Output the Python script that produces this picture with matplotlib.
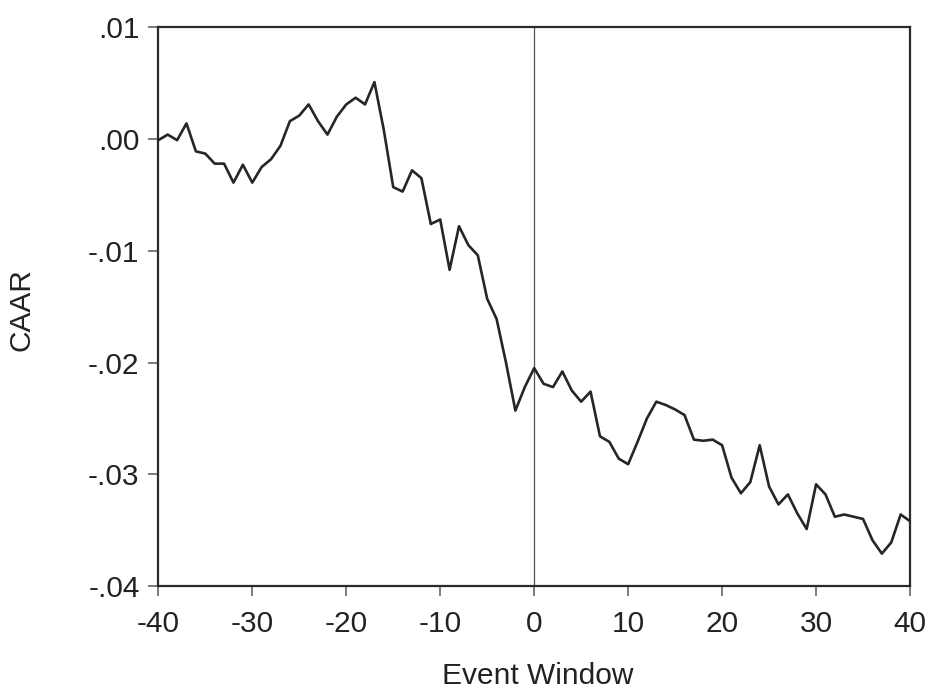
import numpy as np
import matplotlib
matplotlib.use('Agg')
import matplotlib.pyplot as plt

# event window days and cumulative average abnormal returns
event_days = list(range(-40, 41))
caar = [
    -0.0001, 0.0004, -0.0001, 0.0014, -0.0011, -0.0013, -0.0022, -0.0022, -0.0039, -0.0023,
    -0.0039, -0.0025, -0.0018, -0.0006, 0.0016, 0.0021, 0.0031, 0.0016, 0.0004, 0.0020,
    0.0031, 0.0037, 0.0031, 0.0051, 0.0008, -0.0043, -0.0047, -0.0028, -0.0035, -0.0076,
    -0.0072, -0.0117, -0.0078, -0.0095, -0.0104, -0.0143, -0.0161, -0.0200, -0.0243, -0.0222,
    -0.0205, -0.0219, -0.0222, -0.0208, -0.0225, -0.0235, -0.0226, -0.0266, -0.0271, -0.0286,
    -0.0291, -0.0271, -0.0250, -0.0235, -0.0238, -0.0242, -0.0247, -0.0269, -0.0270, -0.0269,
    -0.0274, -0.0303, -0.0317, -0.0307, -0.0274, -0.0311, -0.0327, -0.0318, -0.0335, -0.0349,
    -0.0309, -0.0318, -0.0338, -0.0336, -0.0338, -0.0340, -0.0359, -0.0371, -0.0361, -0.0336,
    -0.0342,
]
x_ticks = [-40, -30, -20, -10, 0, 10, 20, 30, 40]
y_ticks = [0.01, 0.00, -0.01, -0.02, -0.03, -0.04]
y_tick_labels = ['.01', '.00', '-.01', '-.02', '-.03', '-.04']

plt.rcParams['font.family'] = ['Liberation Sans', 'DejaVu Sans']

fig = plt.figure(figsize=(9.29, 6.9), dpi=100)
ax = fig.add_axes([0.1704, 0.1507, 0.8092, 0.8097])

ax.axvline(0, color='#555555', linewidth=0.9, zorder=1)
ax.plot(event_days, caar, color='#262626', linewidth=1.9, zorder=2)

ax.set_xlim(-40, 40)
ax.set_ylim(-0.04, 0.01)
ax.set_xticks(x_ticks)
ax.set_xticklabels([str(t) for t in x_ticks])
ax.set_yticks(y_ticks)
ax.set_yticklabels(y_tick_labels)

ax.tick_params(axis='both', direction='out', length=7.5, width=1.2,
               color='#666666', labelsize=21.5, labelcolor='#222222')
ax.tick_params(axis='x', pad=10)
ax.tick_params(axis='y', pad=6)

for side in ['left', 'right', 'top', 'bottom']:
    ax.spines[side].set_color('#2a2a2a')
    ax.spines[side].set_linewidth(1.6)

ax.set_xlabel('Event Window', fontsize=21.5, color='#222222')
ax.set_ylabel('CAAR', fontsize=21.5, color='#222222')
ax.xaxis.set_label_coords(0.505, -0.136)
ax.yaxis.set_label_coords(-0.164, 0.494)

fig.savefig('out.png', dpi=100)
